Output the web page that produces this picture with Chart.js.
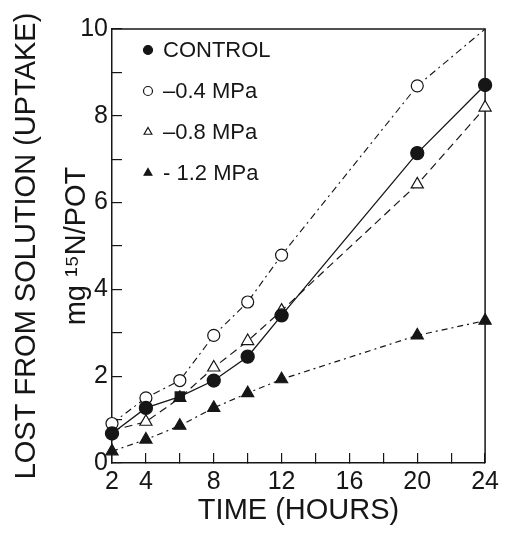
<!DOCTYPE html>
<html>
<head>
<meta charset="utf-8">
<script src="https://cdn.jsdelivr.net/npm/chart.js@4.4.0/dist/chart.umd.min.js"></script>
<style>
  html, body { margin: 0; padding: 0; background: #fff; }
  #wrap { width: 513px; height: 556px; }
</style>
</head>
<body>
<div id="wrap"><canvas id="chart"></canvas></div>
<script>
// values (mg 15N per pot)
const hours = [2, 4, 6, 8, 10, 12, 20, 24];
const control = [0.68, 1.27, 1.53, 1.90, 2.45, 3.40, 7.14, 8.71];
const mpa04 = [0.91, 1.50, 1.90, 2.94, 3.71, 4.79, 8.69, 10.0];
const mpa08 = [0.75, 0.95, 1.50, 2.20, 2.81, 3.51, 6.42, 8.19];
const mpa12 = [0.27, 0.54, 0.86, 1.27, 1.61, 1.93, 2.94, 3.28];
const seriesNames = ['CONTROL', '\u20130.4 MPa', '\u20130.8 MPa', '- 1.2 MPa'];
const xTickLabels = [2, 4, 8, 12, 16, 20, 24];
const yTickLabels = [0, 2, 4, 6, 8, 10];

const ink = '#161616';
const family = "'Liberation Sans', Arial, sans-serif";

function pts(vals) {
    return hours.map((h, i) => ({x: h, y: vals[i]}));
}

// top / right border of the plot box
const frame = {
    id: 'frame',
    beforeDatasetsDraw(chart) {
        const {ctx, chartArea: a} = chart;
        ctx.save();
        ctx.strokeStyle = ink;
        ctx.lineWidth = 1.5;
        ctx.beginPath();
        ctx.moveTo(a.left, a.top);
        ctx.lineTo(a.right, a.top);
        ctx.lineTo(a.right, a.bottom);
        ctx.stroke();
        ctx.restore();
    }
};

// legend box inside the plot, top left
const keyBox = {
    id: 'keyBox',
    afterDatasetsDraw(chart) {
        const {ctx, chartArea: a} = chart;
        ctx.save();
        ctx.font = '22px ' + family;
        ctx.textBaseline = 'middle';
        ctx.textAlign = 'left';
        chart.data.datasets.forEach((ds, i) => {
            const y = a.top + 21 + i * 41;
            const x = a.left + 36;
            ctx.fillStyle = ds.pointBackgroundColor;
            ctx.strokeStyle = ink;
            ctx.lineWidth = 1.2;
            ctx.setLineDash([]);
            Chart.helpers.drawPoint(ctx, {pointStyle: ds.keyStyle, radius: 4.5, borderWidth: 1.2, rotation: 0}, x, y);
            ctx.fillStyle = ink;
            ctx.fillText(ds.label, a.left + 51, y + 1);
        });
        ctx.restore();
    }
};

function createChart() {
    const ctx = document.getElementById('chart');
    new Chart(ctx, {
        type: 'line',
        data: {
            datasets: [
                {
                    label: seriesNames[0], data: pts(control), keyStyle: 'circle',
                    borderColor: ink, borderWidth: 1.3,
                    pointStyle: ['circle', 'circle', 'rect', 'circle', 'circle', 'circle', 'circle', 'circle'],
                    pointRadius: 6.5, pointBackgroundColor: ink, pointBorderColor: ink
                },
                {
                    label: seriesNames[1], data: pts(mpa04), keyStyle: 'circle',
                    borderColor: ink, borderWidth: 1.1, borderDash: [7, 4, 2, 4],
                    pointStyle: 'circle', pointRadius: [6, 6, 6, 6, 6, 6, 6, 0],
                    pointBackgroundColor: '#fff', pointBorderColor: ink, pointBorderWidth: 1.2
                },
                {
                    label: seriesNames[2], data: pts(mpa08), keyStyle: 'triangle',
                    borderColor: ink, borderWidth: 1.2, borderDash: [8, 5],
                    pointStyle: 'triangle', pointRadius: 7,
                    pointBackgroundColor: '#fff', pointBorderColor: ink, pointBorderWidth: 1.2
                },
                {
                    label: seriesNames[3], data: pts(mpa12), keyStyle: 'triangle',
                    borderColor: ink, borderWidth: 1.2, borderDash: [6, 4, 2, 4],
                    pointStyle: 'triangle', pointRadius: 7,
                    pointBackgroundColor: ink, pointBorderColor: ink
                }
            ].map(d => Object.assign(d, {clip: false, tension: 0, fill: false}))
        },
        options: {
            responsive: true,
            maintainAspectRatio: false,
            animation: false,
            layout: {padding: {top: 22, right: 14, left: 0, bottom: 0}},
            plugins: {legend: {display: false}, tooltip: {enabled: false}},
            scales: {
                x: {
                    type: 'linear', min: 2, max: 24,
                    afterFit(s) { s.height = 93; },
                    ticks: {
                        stepSize: 2, autoSkip: false, maxRotation: 0, padding: 14,
                        color: ink, font: {family: family, size: 25},
                        callback: v => xTickLabels.includes(v) ? String(v) : ''
                    },
                    grid: {drawOnChartArea: false, tickLength: -10, color: ink, lineWidth: 1.2},
                    border: {display: true, color: ink, width: 1.5},
                    title: {
                        display: true, text: 'TIME (HOURS)', color: ink,
                        font: {family: family, size: 29}, padding: {top: 0, bottom: 28}
                    }
                },
                y: {
                    min: 0, max: 10,
                    afterFit(s) { s.width = 112; },
                    ticks: {
                        stepSize: 1, padding: 14, color: ink,
                        font: {family: family, size: 25},
                        callback: v => yTickLabels.includes(v) ? String(v) : ''
                    },
                    grid: {drawOnChartArea: false, tickLength: -10, color: ink, lineWidth: 1.2},
                    border: {display: true, color: ink, width: 1.5},
                    title: {
                        display: true,
                        text: ['LOST FROM SOLUTION (UPTAKE)', 'mg \u00b9\u2075N/POT'],
                        color: ink, font: {family: family, size: 29, lineHeight: 1.72},
                        padding: {top: 2, bottom: 0}
                    }
                }
            }
        },
        plugins: [frame, keyBox]
    });
}

createChart();
</script>
</body>
</html>
